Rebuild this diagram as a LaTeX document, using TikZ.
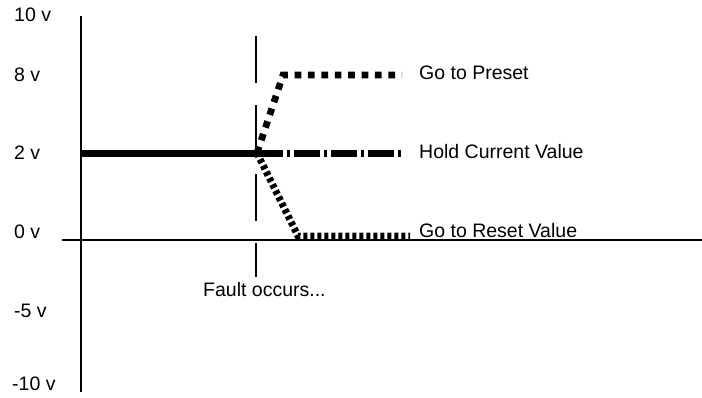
\documentclass[tikz,border=0pt]{standalone}
\usepackage{fontspec}
\setmainfont{Liberation Sans}
\usetikzlibrary{positioning}

\tikzset{
  axisline/.style={line width=1.6pt},
  faultline/.style={line width=1.4pt,dash pattern=on 47pt off 22pt},
  heldline/.style={line width=7pt},
  presetline/.style={line width=6.7pt,dash pattern=on 6.7pt off 6.7pt},
  holdline/.style={line width=7pt,dash pattern=on 26pt off 4pt on 3pt off 4pt},
  resetline/.style={line width=7pt,dash pattern=on 4pt off 3pt},
  vlabel/.style={anchor=west,inner sep=0pt,font=\fontsize{19.5}{22}\selectfont},
}

\begin{document}
\begin{tikzpicture}[x=1pt,y=-1pt]
 \useasboundingbox (0,0) rectangle (702,397);

 % axes
 \coordinate (ytop) at (81,16);
 \coordinate (ybot) at (81,392);
 \coordinate (xleft) at (62,240);
 \coordinate (xright) at (702,240);
 \draw[axisline] (ytop) -- (ybot);
 \draw[axisline] (xleft) -- (xright);

 % voltage labels
 \node[vlabel] (v10) at (14,15) {10 v};
 \node[vlabel] (v8) at (14,75) {8 v};
 \node[vlabel] (v2) at (14,153) {2 v};
 \node[vlabel] (v0) at (14,232) {0 v};
 \node[vlabel] (vm5) at (14,311) {-5 v};
 \node[vlabel] (vm10) at (12,384) {-10 v};

 % fault marker
 \coordinate (ftop) at (256,36);
 \coordinate (fbot) at (256,277);
 \draw[faultline] (ftop) -- (fbot);
 \node[vlabel] (fault) at (203,290) {Fault occurs...};

 % output before the fault
 \coordinate (start) at (82,153);
 \coordinate (fp) at (257,153);
 \draw[heldline] (start) -- (fp);

 % the three choices
 \coordinate (pcorner) at (283,75);
 \coordinate (pend) at (402,75);
 \coordinate (hend) at (401,153);
 \coordinate (rcorner) at (298,236);
 \coordinate (rend) at (410,236);
 \draw[presetline] (fp) -- (pcorner) -- (pend);
 \draw[holdline] (fp) -- (hend);
 \draw[resetline] (fp) -- (rcorner) -- (rend);

 \node[vlabel] (preset) at (419,73) {Go to Preset};
 \node[vlabel] (hold) at (419,152) {Hold Current Value};
 \node[vlabel] (reset) at (419,231) {Go to Reset Value};
\end{tikzpicture}
\end{document}
